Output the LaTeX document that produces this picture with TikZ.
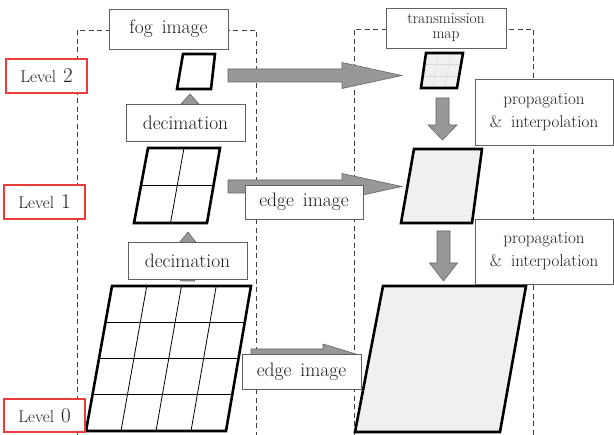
\documentclass[tikz,border=0pt]{standalone}
\usetikzlibrary{calc}
\definecolor{lvlred}{RGB}{235,60,60}
\definecolor{arrgray}{RGB}{152,152,152}
\definecolor{boxgray}{RGB}{96,96,96}
\definecolor{txtgray}{RGB}{30,30,30}
\definecolor{mapfill}{RGB}{240,240,240}

% level label: small word, large digit
\newcommand{\levelname}[1]{{\fontsize{17}{18}\selectfont Level}\hspace{7pt}{\fontsize{21}{21}\selectfont #1}}
% wide word spaces
\newcommand{\widespace}{\spaceskip=9pt\relax}
% fat gray arrow: tail, tip, half body, half head, head length
\newcommand{\fatarrow}[5]{%
  \coordinate (hb) at ($(#2)!#5!(#1)$);
  \draw[fat] ($(#1)!#3!90:(#2)$) -- ($(hb)!#3!90:(#2)$) -- ($(hb)!#4!90:(#2)$)
    -- (#2) -- ($(hb)!#4!-90:(#2)$) -- ($(hb)!#3!-90:(#2)$) -- ($(#1)!#3!-90:(#2)$) -- cycle;}

\begin{document}
\begin{tikzpicture}[x=1pt,y=-1pt,
  tagbox/.style={draw=boxgray,fill=white,line width=0.8pt,inner sep=0pt,align=center,
    text=txtgray,font=\fontsize{19.5}{21}\selectfont\widespace},
  twoline/.style={tagbox,font=\fontsize{17}{23}\selectfont\widespace,
    minimum width=138pt,minimum height=66pt},
  levelbox/.style={draw=lvlred,fill=white,line width=1.1pt,minimum width=81pt,
    minimum height=34pt,inner sep=0pt,text=txtgray},
  frame/.style={draw=black!75,line width=0.7pt,dash pattern=on 5pt off 3.5pt},
  plate/.style={draw=black,line width=2.6pt,line join=miter},
  cell/.style={line width=0.8pt},
  faint/.style={draw=black!15,line width=0.5pt},
  fat/.style={draw=black!60,fill=arrgray,line width=0.6pt,line join=miter}]

  \useasboundingbox (0,0) rectangle (614,435);

  % column frames
  \draw[frame] (77,435) -- (77,30) -- (256,30) -- (256,435);
  \draw[frame] (354,435) -- (354,29) -- (533,29) -- (533,435);

  % fog image pyramid
  \coordinate (f2a) at (183,54);  \coordinate (f2b) at (215,54);
  \coordinate (f2c) at (211,89);  \coordinate (f2d) at (177,89);
  \coordinate (f1a) at (148,148); \coordinate (f1b) at (220,148);
  \coordinate (f1c) at (207,223); \coordinate (f1d) at (134,223);
  \coordinate (f0a) at (112,286); \coordinate (f0b) at (251,286);
  \coordinate (f0c) at (226,431); \coordinate (f0d) at (86,431);

  % transmission map pyramid
  \coordinate (t2a) at (426,53);  \coordinate (t2b) at (463,53);
  \coordinate (t2c) at (457,88);  \coordinate (t2d) at (421,88);
  \coordinate (t1a) at (414,149); \coordinate (t1b) at (482,149);
  \coordinate (t1c) at (472,223); \coordinate (t1d) at (401,223);
  \coordinate (t0a) at (383,286); \coordinate (t0b) at (526,286);
  \coordinate (t0c) at (500,432); \coordinate (t0d) at (355,432);

  % arrow ends
  \coordinate (up1s) at (190,141); \coordinate (up1e) at (190,94);
  \coordinate (up0s) at (187.5,281); \coordinate (up0e) at (188,232);
  \coordinate (h2s) at (228,75.5); \coordinate (h2e) at (402,75.5);
  \coordinate (h1s) at (228,186.5); \coordinate (h1e) at (402,186.5);
  \coordinate (h0s) at (251,355.5); \coordinate (h0e) at (361,355.5);
  \coordinate (d1s) at (442.5,98); \coordinate (d1e) at (442.5,140);
  \coordinate (d0s) at (443.5,231); \coordinate (d0e) at (443.5,281);

  \fatarrow{up1s}{up1e}{6.5pt}{9pt}{10pt}
  \fatarrow{up0s}{up0e}{7pt}{8pt}{10pt}
  \fatarrow{h2s}{h2e}{6.5pt}{13pt}{60pt}
  \fatarrow{h1s}{h1e}{6.5pt}{13pt}{60pt}
  \fatarrow{h0s}{h0e}{6.5pt}{11.5pt}{38pt}
  \fatarrow{d1s}{d1e}{6.5pt}{14.5pt}{15pt}
  \fatarrow{d0s}{d0e}{6.5pt}{14pt}{18pt}

  % plates
  \fill[white] (f2a) -- (f2b) -- (f2c) -- (f2d) -- cycle;
  \draw[plate] (f2a) -- (f2b) -- (f2c) -- (f2d) -- cycle;

  \fill[white] (f1a) -- (f1b) -- (f1c) -- (f1d) -- cycle;
  \draw[cell] ($(f1a)!0.5!(f1b)$) -- ($(f1d)!0.5!(f1c)$);
  \draw[cell] ($(f1a)!0.5!(f1d)$) -- ($(f1b)!0.5!(f1c)$);
  \draw[plate] (f1a) -- (f1b) -- (f1c) -- (f1d) -- cycle;

  \fill[white] (f0a) -- (f0b) -- (f0c) -- (f0d) -- cycle;
  \foreach \i in {1,2,3}{
    \draw[cell] ($(f0a)!\i/4!(f0b)$) -- ($(f0d)!\i/4!(f0c)$);
    \draw[cell] ($(f0a)!\i/4!(f0d)$) -- ($(f0b)!\i/4!(f0c)$);
  }
  \draw[plate] (f0a) -- (f0b) -- (f0c) -- (f0d) -- cycle;

  \fill[mapfill] (t2a) -- (t2b) -- (t2c) -- (t2d) -- cycle;
  \foreach \i in {1,2}{
    \draw[faint] ($(t2a)!\i/3!(t2b)$) -- ($(t2d)!\i/3!(t2c)$);
    \draw[faint] ($(t2a)!\i/3!(t2d)$) -- ($(t2b)!\i/3!(t2c)$);
  }
  \draw[plate] (t2a) -- (t2b) -- (t2c) -- (t2d) -- cycle;
  \draw[plate,fill=mapfill] (t1a) -- (t1b) -- (t1c) -- (t1d) -- cycle;
  \draw[plate,fill=mapfill] (t0a) -- (t0b) -- (t0c) -- (t0d) -- cycle;

  % text boxes
  \node[tagbox,minimum width=119pt,minimum height=40pt] (fog) at (168.5,29) {fog image};
  \node[tagbox,minimum width=120pt,minimum height=40pt,
    font=\fontsize{15.5}{15}\selectfont] (tmap) at (446,28) {transmission\\map};
  \node[tagbox,minimum width=119pt,minimum height=37pt] (dec1) at (185.5,122.5) {decimation};
  \node[tagbox,minimum width=119pt,minimum height=37pt] (dec0) at (187.5,260.5) {decimation};
  \node[tagbox,minimum width=118pt,minimum height=34pt] (edge1) at (304,202) {edge image};
  \node[tagbox,minimum width=119pt,minimum height=35pt] (edge0) at (301.5,371.5) {edge image};
  \node[twoline] (prop1) at (544,112) {propagation\\\& interpolation};
  \node[twoline,minimum height=65pt] (prop0) at (544,251.5) {propagation\\\& interpolation};

  % level labels
  \node[levelbox] (lvl2) at (46.5,76) {\levelname{2}};
  \node[levelbox] (lvl1) at (44.5,202) {\levelname{1}};
  \node[levelbox,minimum height=33pt] (lvl0) at (44.5,415.5) {\levelname{0}};

\end{tikzpicture}
\end{document}
